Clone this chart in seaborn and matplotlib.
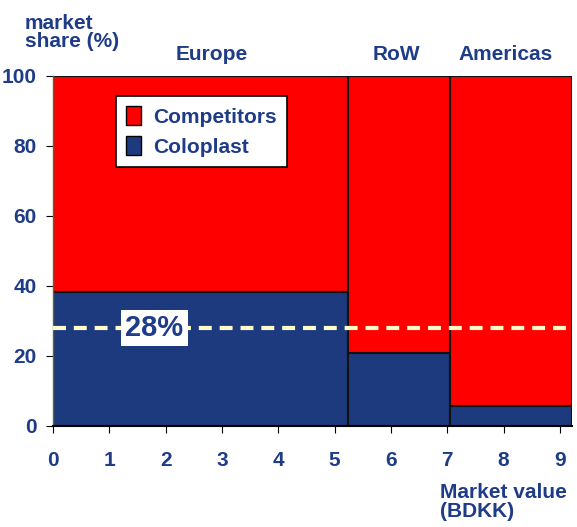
import pandas as pd
import numpy as np
import matplotlib
matplotlib.use('Agg')
import matplotlib.pyplot as plt
import seaborn as sns
from matplotlib.patches import Patch

# market value edges (BDKK) and shares per region
regions = ['Europe', 'RoW', 'Americas']
edges = [0, 5.23, 7.05, 9.21]
coloplast = [38.1, 20.8, 5.7]
competitors = [61.9, 79.2, 94.3]
label_x = [2.82, 6.1, 8.04]
overall = 28

blue = '#1e3a7e'
red = '#ff0000'
txt = '#1f3c88'

sns.set_style('white')
plt.rcParams['font.family'] = ['Liberation Sans', 'DejaVu Sans']
plt.rcParams['font.weight'] = 'bold'

mids = [(edges[i] + edges[i + 1]) / 2 for i in range(len(regions))]
df = pd.DataFrame({
    'mid': mids * 2,
    'share': coloplast + competitors,
    'company': ['Coloplast'] * 3 + ['Competitors'] * 3,
})

fig = plt.figure(figsize=(5.77, 5.27), dpi=100)
ax = fig.add_axes([0.092, 0.192, 0.899, 0.664])
sns.histplot(data=df, x='mid', weights='share', hue='company', bins=edges,
             multiple='stack', hue_order=['Competitors', 'Coloplast'],
             palette={'Coloplast': blue, 'Competitors': red}, alpha=1,
             edgecolor='#111111', linewidth=1.5, legend=False, ax=ax)

ax.axhline(overall, color='#fffbc8', lw=3, ls=(0, (3.1, 1.9)), zorder=5)
ax.text(1.8, overall, f'{overall}%', fontsize=21, fontweight='bold', color=txt,
        ha='center', va='center', zorder=6,
        bbox=dict(facecolor='white', edgecolor='none', pad=3))

for name, x in zip(regions, label_x):
    ax.text(x, 106, name, fontsize=15, fontweight='bold', color=txt,
            ha='center', va='center', clip_on=False)

ax.set_xlim(0, 9.21)
ax.set_ylim(0, 100)
ax.set_xticks(range(10))
ax.set_yticks(range(0, 101, 20))
ax.set_xlabel('')
ax.set_ylabel('')
ax.tick_params(axis='x', direction='out', length=5, pad=13, labelsize=15,
               labelcolor=txt, color='black', bottom=True)
ax.tick_params(axis='y', direction='out', length=5, pad=7, labelsize=15,
               labelcolor=txt, color='black', left=True)
for lab in ax.get_xticklabels() + ax.get_yticklabels():
    lab.set_fontweight('bold')
sns.despine(ax=ax)
ax.spines['bottom'].set_color('black')
ax.spines['bottom'].set_linewidth(1.5)
ax.spines['left'].set_color('#556b2f')
ax.spines['left'].set_linewidth(1)

handles = [Patch(facecolor=red, edgecolor='black', label='Competitors'),
           Patch(facecolor=blue, edgecolor='black', label='Coloplast')]
leg = ax.legend(handles=handles, loc='upper left', bbox_to_anchor=(0.121, 0.943),
                borderaxespad=0, frameon=True, fancybox=False, edgecolor='black',
                framealpha=1, handlelength=0.7, handleheight=1.0,
                handletextpad=0.6, labelspacing=0.45, borderpad=0.5,
                prop={'size': 15, 'weight': 'bold'}, labelcolor=txt)
leg.get_frame().set_linewidth(1.2)

fig.text(0.043, 0.973, 'market\nshare (%)', fontsize=15, fontweight='bold',
         color=txt, ha='left', va='top', linespacing=0.9)
fig.text(0.763, 0.083, 'Market value\n(BDKK)', fontsize=15, fontweight='bold',
         color=txt, ha='left', va='top', linespacing=0.95)

fig.savefig('out.png', dpi=100)
